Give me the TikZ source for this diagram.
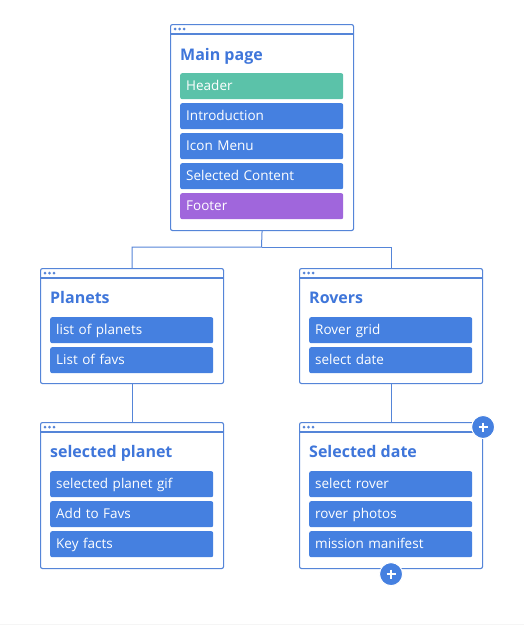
\documentclass[tikz,border=0pt]{standalone}
\usepackage{fontspec}
\setmainfont{Open Sans}
\usetikzlibrary{calc}
\definecolor{frame}{HTML}{5585D8}
\definecolor{heading}{HTML}{3F76DA}
\definecolor{block}{HTML}{4580E0}
\definecolor{mint}{HTML}{5BC2A9}
\definecolor{violet}{HTML}{A066DC}

\begin{document}
\begin{tikzpicture}[
  x=1pt, y=-1pt,
  window/.style={draw=frame, line width=1.1pt, fill=white, rounded corners=2pt,
    anchor=north west, minimum width=183pt, inner sep=0pt},
  bar/.style={draw=frame, line width=1.1pt},
  title/.style={anchor=base west, inner sep=0pt, text=heading,
    font=\fontsize{16}{18}\selectfont\bfseries},
  item/.style={fill=block, rounded corners=2pt, anchor=north west,
    text width=151pt, align=left, inner xsep=6pt, inner ysep=0pt,
    text height=11pt, text depth=2pt,
    minimum height=26pt, text=white, font=\fontsize{13.5}{15}\selectfont},
  link/.style={draw=frame, line width=1pt},
  adder/.style={circle, fill=block, draw=white, line width=1pt,
    minimum size=23pt, inner sep=0pt}
]
\fill[white] (0,0) rectangle (524,629);
\useasboundingbox (0,0) rectangle (524,629);
\draw[gray!8, line width=1pt] (0,624) -- (524,624);

\coordinate (split) at (261.5,247);
\node[window, minimum height=206pt] (main) at (170,24) {};
\node[window, minimum height=115pt] (planets) at (40,268) {};
\node[window, minimum height=115pt] (rovers) at (299,268) {};
\node[window, minimum height=146pt] (planet) at (40,422) {};
\node[window, minimum height=146pt] (date) at (299,422) {};

\draw[link] (main.south) -- (split) -| (planets.north);
\draw[link] (split) -| (rovers.north);
\draw[link] (planets.south) -- (planet.north);
\draw[link] (rovers.south) -- (date.north);

\foreach \w in {main,planets,rovers,planet,date} {
  \draw[bar] ($(\w.north west)+(0,10)$) -- ($(\w.north east)+(0,10)$);
  \foreach \d in {5,9.5,14}
    \fill[frame] ($(\w.north west)+(\d,5)$) circle (1.5pt);
}

\node[title] (main-title) at ($(main.north west)+(10,36)$) {Main page};
\node[title] (planets-title) at ($(planets.north west)+(10,35)$) {Planets};
\node[title] (rovers-title) at ($(rovers.north west)+(10,35)$) {Rovers};
\node[title] (planet-title) at ($(planet.north west)+(10,35)$) {selected planet};
\node[title] (date-title) at ($(date.north west)+(10,35)$) {Selected date};

\foreach \i/\name/\txt/\col in {
  0/header/Header/mint, 1/intro/Introduction/block, 2/menu/Icon Menu/block,
  3/content/Selected Content/block, 4/footer/Footer/violet} {
  \node[item, fill=\col] (\name) at ($(main.north west)+(10,49+30*\i)$) {\txt};
}
\foreach \i/\name/\txt in {0/planetlist/list of planets, 1/favs/List of favs} {
  \node[item] (\name) at ($(planets.north west)+(10,49+30*\i)$) {\txt};
}
\foreach \i/\name/\txt in {0/grid/Rover grid, 1/pickdate/select date} {
  \node[item] (\name) at ($(rovers.north west)+(10,49+30*\i)$) {\txt};
}
\foreach \i/\name/\txt in {0/gif/selected planet gif, 1/addfav/Add to Favs,
  2/facts/Key facts} {
  \node[item] (\name) at ($(planet.north west)+(10,49+30*\i)$) {\txt};
}
\foreach \i/\name/\txt in {0/pickrover/select rover, 1/photos/rover photos,
  2/manifest/mission manifest} {
  \node[item] (\name) at ($(date.north west)+(10,49+30*\i)$) {\txt};
}

\node[adder] (add-right) at ($(date.north east)+(0,5)$) {};
\node[adder] (add-below) at ($(date.south)+(0,5)$) {};
\foreach \p in {add-right,add-below} {
  \draw[white, line width=1.8pt] ($(\p)+(-4.5,0)$) -- ($(\p)+(4.5,0)$);
  \draw[white, line width=1.8pt] ($(\p)+(0,-4.5)$) -- ($(\p)+(0,4.5)$);
}
\end{tikzpicture}
\end{document}
